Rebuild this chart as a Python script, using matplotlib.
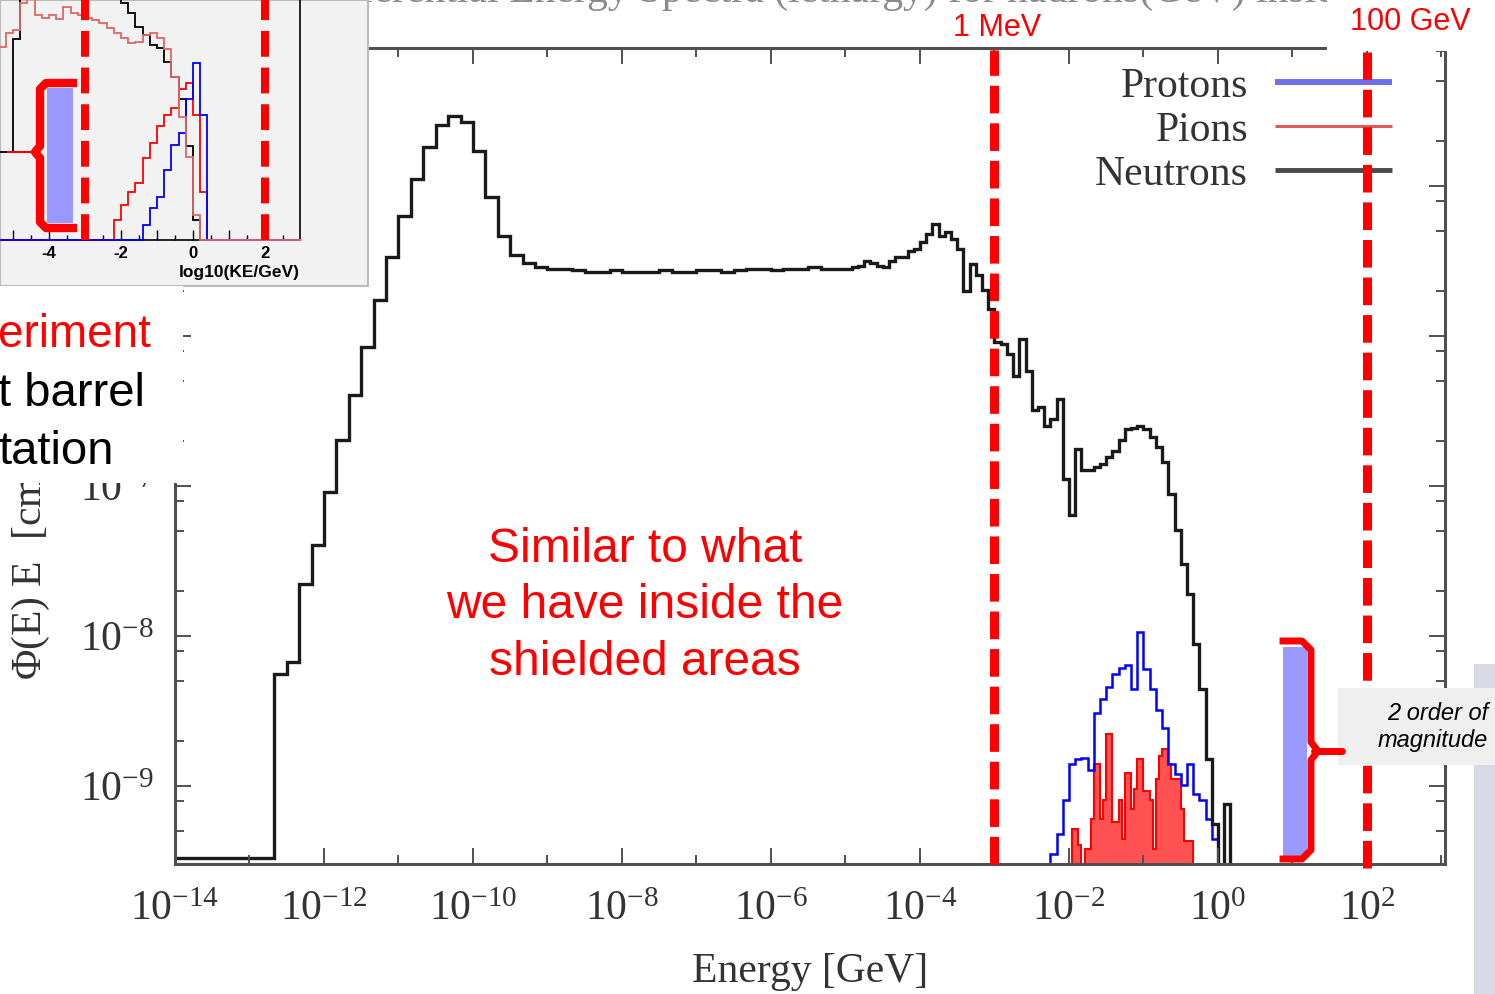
import numpy as np
import matplotlib
matplotlib.use('Agg')
import matplotlib.pyplot as plt
from matplotlib.patches import Rectangle
from matplotlib.lines import Line2D
from matplotlib.ticker import (FixedLocator, LogLocator, NullFormatter,
                               LogFormatterMathtext, MultipleLocator, FuncFormatter)

plt.rcParams['font.family'] = 'Liberation Serif'
plt.rcParams['mathtext.fontset'] = 'custom'
plt.rcParams['mathtext.rm'] = 'Liberation Serif'
plt.rcParams['mathtext.it'] = 'Liberation Serif:italic'

# ---- main plot: bin edges in log10(E/GeV), flux in log10 ----
neut_edges = np.concatenate([[-14.0], np.arange(-76, -30) / 6, np.arange(-60, 4) / 12])
neut_floor = [-9.48]
neut_rise = [-8.25, -8.17, -7.65, -7.39, -7.04, -6.69, -6.39, -6.07, -5.76, -5.47, -5.20,
             -4.95, -4.74, -4.59, -4.53, -4.57, -4.77, -5.07, -5.33, -5.46, -5.51, -5.54]
neut_plateau = [-5.55, -5.55, -5.56, -5.57, -5.57, -5.56, -5.57, -5.57, -5.57, -5.56, -5.57, -5.57,
                -5.56, -5.56, -5.57, -5.56, -5.55, -5.55, -5.56, -5.55, -5.55, -5.54, -5.55, -5.55]
neut_tail = [-5.55, -5.54, -5.53, -5.50, -5.51, -5.53, -5.54, -5.50, -5.47, -5.47, -5.43, -5.42,
             -5.37, -5.32, -5.25, -5.33, -5.31, -5.35, -5.42, -5.70, -5.52, -5.59, -5.69, -5.82,
             -6.04, -6.05, -6.12, -6.27, -6.02, -6.23, -6.49, -6.47, -6.60, -6.55, -6.42, -6.95,
             -7.19, -6.75, -6.89, -6.89, -6.87, -6.85, -6.81, -6.77, -6.69, -6.62, -6.61, -6.60,
             -6.62, -6.67, -6.74, -6.84, -7.05, -7.29, -7.52, -7.72, -8.05, -8.35, -8.82, -9.25,
             -10.0, -9.12, -10.0]
neut_flux = np.array(neut_floor + neut_rise + neut_plateau + neut_tail)

prot_edges = np.arange(-27, 1) / 12
prot_flux = np.array([-9.45, -9.32, -9.09, -8.85, -8.82, -8.81, -8.89, -8.51, -8.42, -8.34,
                      -8.25, -8.21, -8.19, -8.35, -7.97, -8.22, -8.35, -8.49, -8.61, -8.85,
                      -8.92, -8.99, -8.85, -9.05, -9.09, -9.22, -9.35])

pion_edges = np.arange(-48, -5) / 24
pion_flux = np.array([-10.0, -9.29, -9.29, -9.39, -10.0, -9.42, -9.42, -9.22, -8.85, -8.85,
                      -9.22, -9.09, -8.65, -8.65, -9.24, -9.24, -9.09, -9.35, -8.91, -8.91,
                      -9.15, -9.02, -8.82, -8.82, -9.03, -9.03, -9.09, -9.42, -8.95, -8.80,
                      -8.75, -8.75, -8.85, -8.95, -8.95, -8.95, -9.15, -9.37, -9.37, -9.37,
                      -10.0, -10.0])

legend_labels = ['Protons', 'Pions', 'Neutrons']
legend_colors = ['#7070ee', '#e05a5a', '#4a4a4a']
legend_widths = [4.3, 2.2, 3.5]

cut_values = [1e-3, 1e2]
cut_labels = ['1 MeV', '100 GeV']

# ---- inset (pasted plot): log10(KE/GeV) bins, heights in arbitrary units ----
inset_edges = np.arange(-27, 16) / 5
inset_neut = [88, 88, 201] + [300] * 14 + [237, 227, 213, 205, 195, 192, 178, 163, 141, 94, 20] + [0] * 14
inset_pion_all = [193, 207, 210, 237, 250, 225, 222, 225, 221, 233, 227, 225, 222, 220, 217, 212,
                  207, 202, 197, 198, 205, 207, 202, 191, 163, 123, 83, 25] + [0] * 14
inset_pion = [0] * 16 + [20, 35, 48, 57, 82, 97, 114, 125, 132, 151, 157, 125, 48] + [0] * 13
inset_prot = [0] * 20 + [15, 32, 43, 70, 95, 107, 141, 177, 125] + [0] * 13

W, H = 1495, 994


def fx(x):
    return x / W


def fy(y):
    return 1 - y / H


def axx(x):
    return (x - 175) / 1270


def axy(y):
    return (864 - y) / 816


fig = plt.figure(figsize=(14.95, 9.94), dpi=100)

ax = fig.add_axes([fx(175), fy(864), 1270 / W, 816 / H])
ax.set_xscale('log')
ax.set_yscale('log')

ax.stairs(10 ** pion_flux, 10 ** pion_edges, baseline=1e-10, fill=True, color='#ff1a1a', alpha=0.75, lw=0)
ax.stairs(10 ** pion_flux, 10 ** pion_edges, baseline=1e-10, color='#ff0000', lw=1.5)
ax.stairs(10 ** prot_flux, 10 ** prot_edges, baseline=1e-10, color='#0000ff', lw=1.8)
ax.stairs(10 ** neut_flux, 10 ** neut_edges, baseline=None, color='#1a1a1a', lw=2.4)

ax.set_xlim(1e-14, 10 ** 3.047)
ax.set_ylim(10 ** -9.52, 10 ** -4.08)

ax.xaxis.set_major_locator(FixedLocator(10.0 ** np.arange(-14, 4, 2)))
ax.xaxis.set_minor_locator(FixedLocator(10.0 ** np.arange(-13, 4, 2)))
ax.xaxis.set_major_formatter(LogFormatterMathtext())
ax.xaxis.set_minor_formatter(NullFormatter())
ax.yaxis.set_major_locator(LogLocator(base=10, numticks=20))
ax.yaxis.set_minor_locator(LogLocator(base=10, subs=[2, 5, 8], numticks=20))
ax.yaxis.set_minor_formatter(NullFormatter())

ax.tick_params(which='both', direction='in', top=True, right=True, color='#505050', width=1.4)
ax.tick_params(which='major', length=11.5, labelsize=30, labelcolor='#333333')
ax.tick_params(which='minor', length=6.5)
ax.tick_params(axis='x', pad=19)
ax.tick_params(axis='y', pad=15)
for s in ax.spines.values():
    s.set_color('#505050')
    s.set_linewidth(2.2)

ax.set_xlabel('Energy [GeV]', fontsize=30, color='#333333', labelpad=17)

# legend drawn at the picture's place
for i, (lab, c, lw) in enumerate(zip(legend_labels, legend_colors, legend_widths)):
    yy = 82 + 44 * i
    ax.plot([axx(1275), axx(1392)], [axy(yy), axy(yy)], transform=ax.transAxes,
            color=c, lw=lw, solid_capstyle='butt', zorder=3)
    ax.text(axx(1248), axy(yy + 15), lab, transform=ax.transAxes, ha='right',
            va='baseline', fontsize=30, color='#333333')

# 1 MeV and 100 GeV cuts
ax.axvline(cut_values[0], ymin=0, ymax=axy(50), color='red', lw=6.5,
           dashes=(3.06, 1.1), clip_on=False, zorder=4)
ax.axvline(cut_values[1], ymin=axy(868), ymax=axy(52), color='red', lw=6.5,
           dashes=(3.06, 1.1), clip_on=False, zorder=4)

# partial title cut by the slide
fig.text(fx(830), fy(2), 'Differential Energy Spectra (lethargy) for hadrons(GeV) inside',
         ha='center', va='baseline', fontsize=30, color='#8a8a8a', zorder=0.5)

# white box behind "100 GeV"
fig.add_artist(Rectangle((fx(1327), fy(51)), 168 / W, 51 / H, transform=fig.transFigure,
                         facecolor='white', edgecolor='none', zorder=5))
fig.text(fx(997), fy(28), cut_labels[0], ha='center', va='center', fontsize=22,
         color='red', family='Liberation Sans', zorder=6)
fig.text(fx(1410), fy(22), cut_labels[1], ha='center', va='center', fontsize=22,
         color='red', family='Liberation Sans', zorder=6)

# y label (partly hidden by the slide text box)
fig.text(fx(30), fy(680), 'Φ(E) E  [cm$^{-2}$ s$^{-1}$]', rotation=90, ha='center',
         va='bottom', fontsize=30, color='#333333', zorder=1)

# ---- inset panel ----
fig.add_artist(Rectangle((0, fy(286)), fx(368), 286 / H, transform=fig.transFigure,
                         facecolor='#f2f2f2', edgecolor='#bbbbbb', lw=1.5, zorder=5))
axi = fig.add_axes([0, fy(240), fx(300), 240 / H], zorder=6)
axi.patch.set_visible(False)
axi.stairs(inset_neut, inset_edges, baseline=0, color='black', lw=1.3, clip_on=False, zorder=3)
axi.stairs(inset_pion, inset_edges, baseline=0, color='#ff0000', lw=1.3, clip_on=False, zorder=3)
axi.stairs(inset_prot, inset_edges, baseline=0, color='#0000ff', lw=1.3, clip_on=False, zorder=3)
axi.stairs(inset_pion_all, inset_edges, baseline=0, color='#e06666', lw=1.3, clip_on=False, zorder=3)
for v in [-3, 2]:
    axi.axvline(v, color='red', lw=5.8, dashes=(3.2, 1.35), zorder=4)
axi.set_xlim(-5.36, 2.97)
axi.set_ylim(0, 240)
axi.spines['left'].set_visible(False)
axi.spines['top'].set_visible(False)
axi.spines['bottom'].set_linewidth(1.2)
axi.spines['right'].set_linewidth(1.2)
axi.xaxis.set_major_locator(MultipleLocator(1))
axi.xaxis.set_minor_locator(MultipleLocator(0.5))
axi.xaxis.set_major_formatter(FuncFormatter(lambda v, p: '%d' % round(v) if round(v) % 2 == 0 else ''))
axi.yaxis.set_major_locator(FixedLocator([]))
axi.tick_params(which='both', direction='in', width=1, labelfontfamily='Liberation Sans')
axi.tick_params(which='major', length=7, labelsize=12, pad=4)
axi.tick_params(which='minor', length=3.5)
for lbl in axi.get_xticklabels():
    lbl.set_fontweight('bold')
axi.set_xlabel('log10(KE/GeV)', loc='right', fontsize=12.5, fontweight='bold',
               family='Liberation Sans', labelpad=3)

# brace in the inset
fig.add_artist(Rectangle((fx(47), fy(223)), 26 / W, 135 / H, transform=fig.transFigure,
                         facecolor='#9999ff', edgecolor='none', zorder=7))
bx = [73, 46, 40, 40, 35, 40, 40, 46, 73]
by = [83, 83, 89, 146, 152, 158, 222, 228, 228]
fig.add_artist(Line2D([fx(x) for x in bx], [fy(y) for y in by], transform=fig.transFigure,
                      color='red', lw=6, solid_joinstyle='round', zorder=8))
fig.add_artist(Line2D([fx(8), fx(36)], [fy(152), fy(152)], transform=fig.transFigure,
                      color='red', lw=1.5, zorder=8))

# slide text box on the left
fig.add_artist(Rectangle((0, fy(483)), fx(183), (483 - 286) / H, transform=fig.transFigure,
                         facecolor='white', edgecolor='none', zorder=5))
fig.text(fx(-2), fy(347), 'eriment', color='red', fontsize=33, family='Liberation Sans',
         ha='left', va='baseline', zorder=8)
fig.text(fx(-2), fy(406), 't barrel', color='black', fontsize=34, family='Liberation Sans',
         ha='left', va='baseline', zorder=8)
fig.text(fx(-2), fy(464), 'tation', color='black', fontsize=34, family='Liberation Sans',
         ha='left', va='baseline', zorder=8)

fig.text(fx(645), fy(606), 'Similar to what\nwe have inside the\nshielded areas', ha='center',
         va='center', multialignment='center', fontsize=34.5, color='red',
         family='Liberation Sans', linespacing=1.32, zorder=6)

# brace on the right: 2 orders of magnitude
fig.add_artist(Rectangle((fx(1283), fy(857)), 24 / W, 210 / H, transform=fig.transFigure,
                         facecolor='#9999ff', edgecolor='none', zorder=5))
rx = [1283, 1302, 1311, 1311, 1318, 1311, 1311, 1302, 1283]
ry = [641, 641, 650, 742, 751, 760, 850, 859, 859]
fig.add_artist(Line2D([fx(x) for x in rx], [fy(y) for y in ry], transform=fig.transFigure,
                      color='red', lw=5, solid_joinstyle='round', zorder=6))
fig.add_artist(Line2D([fx(1314), fx(1342)], [fy(751), fy(751)], transform=fig.transFigure,
                      color='red', lw=5, solid_capstyle='round', zorder=6))

fig.add_artist(Rectangle((fx(1474), fy(994)), 21 / W, 330 / H, transform=fig.transFigure,
                         facecolor='#d9d9e3', edgecolor='none', zorder=1))
fig.add_artist(Rectangle((fx(1338), fy(765)), 157 / W, 77 / H, transform=fig.transFigure,
                         facecolor='#efefef', edgecolor='none', zorder=5))
fig.text(fx(1488), fy(727), '2 order of\nmagnitude', ha='right', va='center',
         multialignment='right', fontsize=17, style='italic', family='Liberation Sans',
         linespacing=1.25, zorder=6)

fig.savefig('out.png', dpi=100)
